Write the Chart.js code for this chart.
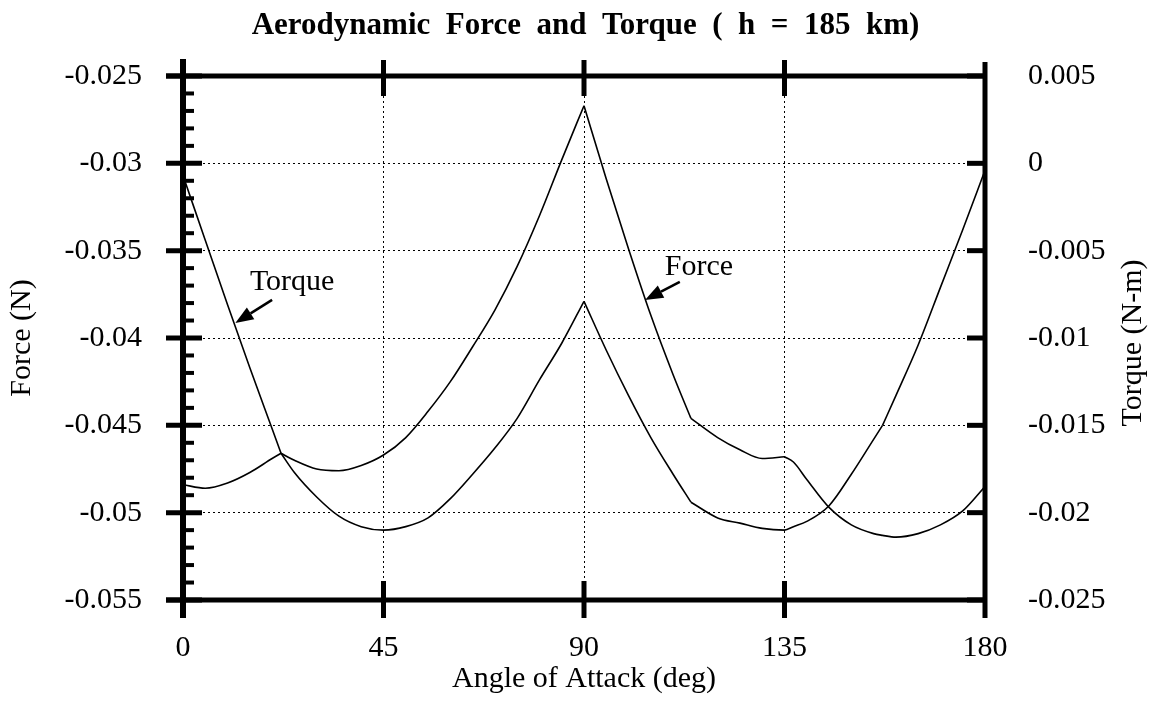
<!DOCTYPE html>
<html lang="en">
<head>
<meta charset="utf-8">
<script src="https://cdn.jsdelivr.net/npm/chart.js@4.4.1/dist/chart.umd.min.js"></script>
<style>
  body { margin: 0; background: #fff; }
</style>
</head>
<body>
<canvas id="chart" width="1171" height="701"></canvas>
<script>
// angle of attack (deg) and the two curves
const angles = [0, 5, 10, 15, 20, 22, 25, 30, 35, 40, 45, 50, 55, 60, 65, 70, 75, 80, 85, 90,
                95, 100, 105, 110, 114, 120, 125, 130, 135, 137, 140, 145, 150, 155, 157, 160, 165, 170, 175, 180];
const forceValues = [-0.0484, -0.0486, -0.0483, -0.0477, -0.0469, -0.0466, -0.0470, -0.0475, -0.0476, -0.0473,
                     -0.0467, -0.0457, -0.0442, -0.0425, -0.0405, -0.0384, -0.0359, -0.0330, -0.0298, -0.0267,
                     -0.0309, -0.0349, -0.0387, -0.0421, -0.0446, -0.0457, -0.0464, -0.0469, -0.0468, -0.0471,
                     -0.0481, -0.0497, -0.0507, -0.0512, -0.0513, -0.0514, -0.0512, -0.0507, -0.0499, -0.0485];
const torqueValues = [-0.0007, -0.0044, -0.0081, -0.0117, -0.0152, -0.0166, -0.0177, -0.0191, -0.0202, -0.0208,
                      -0.0210, -0.0208, -0.0203, -0.0192, -0.0178, -0.0163, -0.0146, -0.0124, -0.0103, -0.0079,
                      -0.0107, -0.0133, -0.0157, -0.0178, -0.0194, -0.0203, -0.0206, -0.0209, -0.0210, -0.0208,
                      -0.0205, -0.0196, -0.0178, -0.0158, -0.0150, -0.0133, -0.0104, -0.0071, -0.0038, -0.0004];

// angles where the curves have a corner
const forceCorners = [22, 90, 114, 135];
const torqueCorners = [22, 90, 114, 157];

const angleTicks = [0, 45, 90, 135, 180];
const forceTicks = [-0.055, -0.05, -0.045, -0.04, -0.035, -0.03, -0.025];
const torqueTicks = [-0.025, -0.02, -0.015, -0.01, -0.005, 0, 0.005];

// callout labels, in data units (angle, force axis)
const notes = [
  { text: 'Torque', x: 24.5, y: -0.03725, tipX: 11.75, tipY: -0.03914, tailX: 20.0, tailY: -0.03782 },
  { text: 'Force', x: 115.8, y: -0.03639, tipX: 103.7, tipY: -0.03782, tailX: 111.5, tailY: -0.03679 }
];

const serif = '"Liberation Serif", "Times New Roman", serif';
Chart.defaults.color = '#000';
Chart.defaults.font.family = serif;

// split a series at its corners so each smooth piece keeps a sharp end
function pieces(vals, corners) {
  const out = [[]];
  angles.forEach((a, i) => {
    const p = { x: a, y: vals[i] };
    out[out.length - 1].push(p);
    if (corners.includes(a)) out.push([p]);
  });
  return out;
}

function seriesSets(label, vals, corners, axis) {
  return pieces(vals, corners).map(d => ({ label: label, data: d, yAxisID: axis }));
}

function line(ctx, x1, y1, x2, y2, w) {
  ctx.lineWidth = w;
  ctx.beginPath();
  ctx.moveTo(x1, y1);
  ctx.lineTo(x2, y2);
  ctx.stroke();
}

// heavy frame, crossing ticks, minor ticks, callouts, right axis title
const decorations = {
  id: 'decorations',
  afterDraw(chart) {
    const ctx = chart.ctx;
    const { left, right, top, bottom } = chart.chartArea;
    const sx = chart.scales.x, sy = chart.scales.y, sy1 = chart.scales.y1;
    ctx.save();
    ctx.strokeStyle = '#000';
    ctx.fillStyle = '#000';
    ctx.lineCap = 'butt';

    line(ctx, left - 17, top, right + 2, top, 5);
    line(ctx, left - 17, bottom, right + 2, bottom, 5);
    line(ctx, left, top - 17, left, bottom + 18, 6);
    line(ctx, right, top - 14, right, bottom + 18, 5);

    forceTicks.forEach(v => {
      const y = sy.getPixelForValue(v);
      line(ctx, left - 17, y, left + 19, y, 5);
    });
    for (let v = -0.054; v < -0.0251; v += 0.001) {
      if (forceTicks.some(t => Math.abs(t - v) < 1e-6)) continue;
      const y = sy.getPixelForValue(v);
      line(ctx, left, y, left + 11, y, 4);
    }
    torqueTicks.forEach(v => {
      const y = sy1.getPixelForValue(v);
      line(ctx, right - 18, y, right, y, 5);
    });
    angleTicks.slice(1, -1).forEach(a => {
      const x = sx.getPixelForValue(a);
      line(ctx, x, top - 16, x, top + 20, 5);
      line(ctx, x, bottom - 19, x, bottom + 18, 5);
    });

    ctx.font = '30px ' + serif;
    ctx.textAlign = 'center';
    ctx.textBaseline = 'alphabetic';
    notes.forEach(n => {
      ctx.fillText(n.text, sx.getPixelForValue(n.x), sy.getPixelForValue(n.y));
      const x1 = sx.getPixelForValue(n.tailX), y1 = sy.getPixelForValue(n.tailY);
      const x2 = sx.getPixelForValue(n.tipX), y2 = sy.getPixelForValue(n.tipY);
      const ang = Math.atan2(y2 - y1, x2 - x1);
      const len = 18, half = 7;
      const bx = x2 - len * Math.cos(ang), by = y2 - len * Math.sin(ang);
      line(ctx, x1, y1, bx, by, 2.5);
      ctx.beginPath();
      ctx.moveTo(x2, y2);
      ctx.lineTo(bx + half * Math.sin(ang), by - half * Math.cos(ang));
      ctx.lineTo(bx - half * Math.sin(ang), by + half * Math.cos(ang));
      ctx.closePath();
      ctx.fill();
    });

    ctx.translate(1133, 343);
    ctx.rotate(-Math.PI / 2);
    ctx.textBaseline = 'middle';
    ctx.fillText('Torque (N-m)', 0, 0);
    ctx.restore();
  }
};

new Chart(document.getElementById('chart'), {
  type: 'line',
  data: {
    datasets: [
      ...seriesSets('Force', forceValues, forceCorners, 'y'),
      ...seriesSets('Torque', torqueValues, torqueCorners, 'y1')
    ]
  },
  options: {
    responsive: false,
    devicePixelRatio: 1,
    animation: false,
    layout: { padding: 0 },
    elements: {
      line: { borderColor: '#000', borderWidth: 1.6, cubicInterpolationMode: 'monotone', fill: false },
      point: { radius: 0 }
    },
    plugins: {
      legend: { display: false },
      tooltip: { enabled: false },
      title: {
        display: true,
        text: 'Aerodynamic  Force  and  Torque  (  h  =  185  km)',
        color: '#000',
        font: { family: serif, size: 31, weight: 'bold' },
        padding: { top: 7, bottom: 31.8 }
      }
    },
    scales: {
      x: {
        type: 'linear',
        min: 0,
        max: 180,
        afterBuildTicks: s => { s.ticks = angleTicks.map(v => ({ value: v })); },
        afterFit: s => { s.height = 101; },
        ticks: { font: { size: 30 }, color: '#000', padding: 30, maxRotation: 0, callback: v => String(v) },
        grid: { color: '#000', lineWidth: 1, drawTicks: false },
        border: { display: false, dash: [2, 3] },
        title: { display: true, text: 'Angle of Attack (deg)', font: { size: 30 }, color: '#000', padding: { top: 0, bottom: 4 } }
      },
      y: {
        position: 'left',
        min: -0.055,
        max: -0.025,
        afterBuildTicks: s => { s.ticks = forceTicks.map(v => ({ value: v })); },
        afterFit: s => { s.width = 183; },
        ticks: { font: { size: 30 }, color: '#000', padding: 41, callback: v => String(v) },
        grid: { color: '#000', lineWidth: 1, drawTicks: false },
        border: { display: false, dash: [2, 3] },
        title: { display: true, text: 'Force (N)', font: { size: 30 }, color: '#000', padding: { top: 4, bottom: 0 } }
      },
      y1: {
        position: 'right',
        min: -0.025,
        max: 0.005,
        afterBuildTicks: s => { s.ticks = torqueTicks.map(v => ({ value: v })); },
        afterFit: s => { s.width = 186; },
        ticks: { font: { size: 30 }, color: '#000', padding: 43, callback: v => String(v) },
        grid: { display: false, drawTicks: false },
        border: { display: false }
      }
    }
  },
  plugins: [decorations]
});
</script>
</body>
</html>
